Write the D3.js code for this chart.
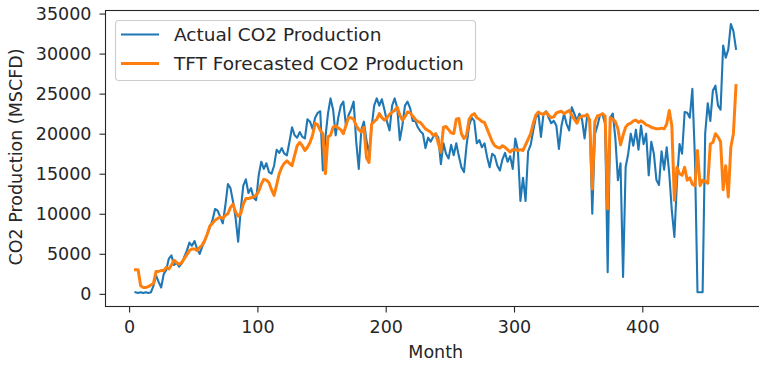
<!DOCTYPE html>
<html>
<head>
<meta charset="utf-8">
<script src="https://cdn.jsdelivr.net/npm/d3@7"></script>
<style>
  html, body { margin: 0; padding: 0; background: #fff; overflow: hidden; }
  svg { display: block; font-family: "DejaVu Sans", sans-serif; }
</style>
</head>
<body>
<svg id="chart" width="759" height="365"></svg>
<script>
// Monthly samples (every second month, months 5..473), values in MSCFD
const months = d3.range(5, 474, 2);

const actualCO2 = [
  0.2,0.1,0.2,0.1,0.2,0.1,0.2,1.0,2.3,1.5,
  0.8,2.5,3.0,4.4,4.8,3.6,3.9,3.4,3.8,4.6,
  5.4,6.4,6.0,6.6,5.6,5.0,5.9,6.6,7.5,8.3,
  9.2,10.6,10.4,9.6,8.8,11.0,13.7,13.2,11.5,9.5,
  6.5,10.5,13.5,14.3,12.6,13.2,12.0,11.7,14.8,16.5,
  15.6,16.3,15.2,15.0,16.0,18.0,17.6,18.2,17.5,17.3,
  19.0,20.8,19.8,19.5,20.2,19.6,19.4,21.8,21.5,20.6,
  22.0,22.6,22.8,15.4,19.5,22.5,24.4,23.0,19.8,22.0,
  23.5,24.0,21.0,22.3,23.0,24.0,19.0,15.6,20.5,21.5,
  19.2,17.5,20.8,23.5,24.4,23.5,24.3,23.0,21.5,20.4,
  23.5,24.4,23.2,19.2,21.0,23.5,24.0,23.2,21.6,21.6,
  20.8,20.3,20.0,18.2,19.5,19.0,19.6,20.0,19.5,16.2,
  18.8,17.5,16.9,18.6,17.3,18.8,17.2,15.8,15.2,18.5,
  21.0,22.0,21.6,18.8,19.2,18.3,18.8,17.1,15.8,17.5,
  17.2,16.0,15.4,16.8,17.6,16.5,17.2,15.6,19.4,18.0,
  11.6,14.5,11.6,17.8,18.6,20.4,22.0,22.5,19.6,22.5,
  22.8,22.0,21.3,21.6,21.0,18.1,21.0,22.5,21.2,20.4,
  23.3,22.5,21.6,22.5,21.8,19.4,22.2,21.6,10.0,19.9,
  21.0,22.3,22.4,21.2,2.7,22.0,22.5,19.4,14.2,16.3,
  2.1,15.8,17.5,20.0,18.5,20.5,18.0,21.0,18.7,20.0,
  14.8,19.0,17.5,14.2,13.6,17.8,15.5,18.3,15.0,10.4,
  7.1,14.0,18.7,17.5,22.7,22.6,22.0,25.6,17.0,0.2,
  0.2,0.2,20.0,23.8,21.6,25.4,26.0,23.5,23.0,31.0,
  29.5,30.5,33.7,32.8,30.6
].map(v => v * 1000);

const forecastCO2 = [
  3.0,3.0,1.0,0.8,0.8,0.9,1.1,1.3,2.8,2.8,
  2.9,2.9,3.3,3.1,3.6,4.2,3.9,3.7,3.9,4.4,
  4.9,5.4,5.6,5.6,5.4,5.8,6.1,6.7,7.5,8.5,
  8.8,9.2,9.4,9.6,9.4,9.8,10.0,10.8,11.2,10.2,
  9.7,10.0,11.2,11.9,11.9,12.0,12.1,12.3,12.8,13.7,
  14.3,14.2,13.9,13.0,12.3,13.6,15.0,15.8,16.3,16.6,
  16.3,16.0,17.3,18.5,18.9,18.5,17.9,18.3,18.9,19.8,
  21.3,21.1,20.4,20.0,15.0,19.6,19.8,20.8,21.0,20.7,
  20.5,20.0,21.0,22.0,22.0,21.8,21.0,20.5,20.2,20.8,
  17.0,16.4,21.2,21.5,21.8,22.5,22.0,21.7,22.0,22.4,
  22.7,22.9,23.3,22.3,21.7,22.1,22.7,22.6,22.2,21.8,
  21.5,21.4,21.0,20.6,20.4,20.2,19.8,20.0,18.8,17.7,
  20.8,20.9,20.5,20.1,20.0,21.8,21.9,20.0,19.4,19.8,
  21.8,22.3,22.5,22.0,21.8,21.5,21.4,20.6,19.8,19.0,
  18.5,18.3,18.2,18.5,18.3,18.0,17.7,18.0,18.0,17.9,
  18.0,17.9,18.6,19.3,20.0,21.3,22.3,22.7,22.5,22.4,
  22.7,22.3,22.0,22.1,22.6,22.7,22.8,22.5,22.7,22.9,
  22.3,21.8,21.3,22.0,22.2,22.2,22.4,21.7,13.1,21.5,
  22.2,22.3,22.5,22.2,10.6,22.0,21.8,21.5,20.6,18.6,
  19.8,20.8,21.2,21.3,21.6,21.7,21.4,21.6,21.4,21.1,
  21.0,20.8,20.7,20.6,20.6,20.7,20.6,21.2,22.9,21.0,
  11.7,15.8,15.0,14.8,15.8,14.2,14.5,13.7,13.5,17.9,
  13.5,14.2,14.0,13.8,18.7,18.9,20.0,19.6,19.0,13.0,
  16.0,12.1,18.3,20.0,26.0
].map(v => v * 1000);

const xTicks = [0, 100, 200, 300, 400];
const yTicks = [0, 5000, 10000, 15000, 20000, 25000, 30000, 35000];

const seriesNames = ["Actual CO2 Production", "TFT Forecasted CO2 Production"];
const seriesColors = ["#1f77b4", "#ff7f0e"];
const seriesWidths = [2.1, 3.0];

const svg = d3.select("#chart");
const W = 759, H = 365;
const margin = { left: 105.5, top: 10.5, right: -7, bottom: 58.5 };
const plotL = margin.left, plotT = margin.top;
const plotR = W - margin.right, plotB = H - margin.bottom;

// Axis limits padded by 5% of the data span on each side
function padded(extent) {
  const span = extent[1] - extent[0];
  return [extent[0] - 0.05 * span, extent[1] + 0.05 * span];
}
const x = d3.scaleLinear().domain(padded(d3.extent(months))).range([plotL, plotR]);
const allVals = actualCO2.concat(forecastCO2);
const y = d3.scaleLinear().domain(padded(d3.extent(allVals))).range([plotB, plotT]);

const textColor = "#262626";
const fontSize = 17.5;
const legendFontSize = 18.5;

// Lines
const seriesData = [actualCO2, forecastCO2];
svg.append("clipPath").attr("id", "plotclip")
  .append("rect").attr("x", plotL).attr("y", plotT)
  .attr("width", plotR - plotL).attr("height", plotB - plotT);

const lineGen = vals => d3.line()
  .x((d, i) => x(months[i]))
  .y(d => y(d))(vals);

seriesData.forEach((vals, k) => {
  svg.append("path")
    .attr("d", lineGen(vals))
    .attr("fill", "none")
    .attr("stroke", seriesColors[k])
    .attr("stroke-width", seriesWidths[k])
    .attr("stroke-linejoin", "round")
    .attr("stroke-linecap", "square")
    .attr("clip-path", "url(#plotclip)");
});

// Axes
const fmt = d3.format("d");
const xAxis = d3.axisBottom(x).tickValues(xTicks).tickFormat(fmt).tickSize(6).tickPadding(8).tickSizeOuter(0);
const yAxis = d3.axisLeft(y).tickValues(yTicks).tickFormat(fmt).tickSize(6).tickPadding(8).tickSizeOuter(0);

const gx = svg.append("g").attr("transform", `translate(0,${plotB})`).call(xAxis);
const gy = svg.append("g").attr("transform", `translate(${plotL},0)`).call(yAxis);
[gx, gy].forEach(g => {
  g.select(".domain").remove();
  g.selectAll(".tick line").attr("stroke", textColor).attr("stroke-width", 1.1);
  g.selectAll(".tick text").attr("fill", textColor)
    .style("font-size", fontSize + "px").style("font-family", "DejaVu Sans");
});

// Frame (spines)
svg.append("rect")
  .attr("x", plotL).attr("y", plotT)
  .attr("width", plotR - plotL).attr("height", plotB - plotT)
  .attr("fill", "none").attr("stroke", textColor).attr("stroke-width", 1.1);

// Axis titles
svg.append("text")
  .attr("x", (plotL + plotR) / 2).attr("y", 358)
  .attr("text-anchor", "middle").attr("fill", textColor)
  .style("font-size", fontSize + "px")
  .text("Month");

svg.append("text")
  .attr("transform", `translate(22,157) rotate(-90)`)
  .attr("text-anchor", "middle").attr("fill", textColor)
  .style("font-size", fontSize + "px")
  .text("CO2 Production (MSCFD)");

// Legend
const legend = svg.append("g");
legend.append("rect")
  .attr("x", 115.5).attr("y", 20.5).attr("width", 360).attr("height", 60)
  .attr("rx", 3.5).attr("ry", 3.5)
  .attr("fill", "#fff").attr("fill-opacity", 0.8)
  .attr("stroke", "#cccccc").attr("stroke-width", 1.1);

seriesNames.forEach((name, k) => {
  const cy = 34.5 + k * 29;
  legend.append("line")
    .attr("x1", 121).attr("x2", 159)
    .attr("y1", cy).attr("y2", cy)
    .attr("stroke", seriesColors[k]).attr("stroke-width", seriesWidths[k]);
  legend.append("text")
    .attr("x", 174).attr("y", cy + 6.6)
    .attr("fill", textColor)
    .style("font-size", legendFontSize + "px")
    .text(name);
});
</script>
</body>
</html>
